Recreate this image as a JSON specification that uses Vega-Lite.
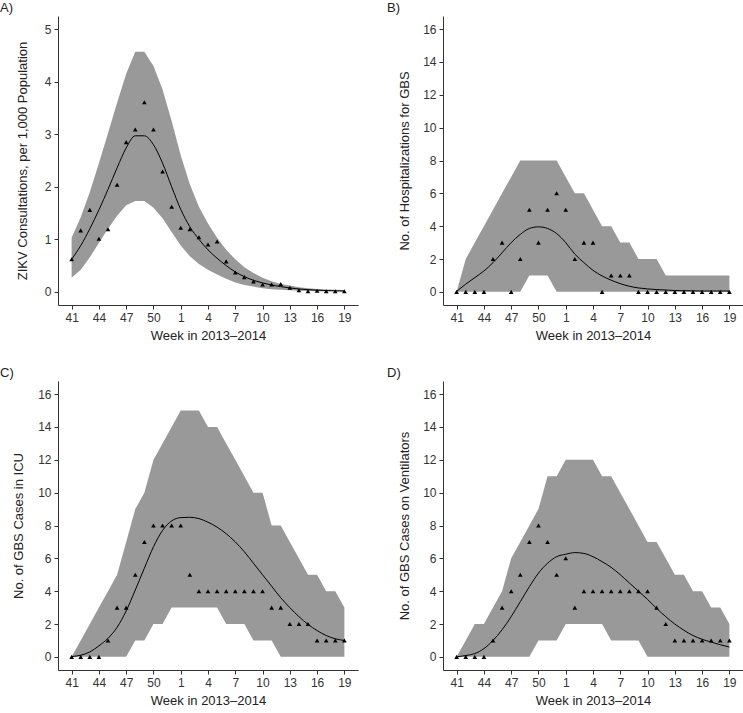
{
  "$schema": "https://vega.github.io/schema/vega-lite/v6.json",
  "padding": {"left": 0, "top": 2, "right": 0, "bottom": 0},
  "bounds": "flush",
  "columns": 2,
  "spacing": {"row": 76, "column": 85},
  "datasets": {
    "A": [
      {"t":0,"obs":0.62,"fit":0.62,"lo":0.27,"hi":1.03},
      {"t":1,"obs":1.17,"fit":0.88,"lo":0.42,"hi":1.42},
      {"t":2,"obs":1.56,"fit":1.2,"lo":0.66,"hi":1.9},
      {"t":3,"obs":1.01,"fit":1.56,"lo":0.93,"hi":2.45},
      {"t":4,"obs":1.19,"fit":1.95,"lo":1.2,"hi":3.02},
      {"t":5,"obs":2.04,"fit":2.36,"lo":1.45,"hi":3.6},
      {"t":6,"obs":2.85,"fit":2.74,"lo":1.65,"hi":4.15},
      {"t":7,"obs":3.09,"fit":2.97,"lo":1.73,"hi":4.57},
      {"t":8,"obs":3.61,"fit":2.97,"lo":1.73,"hi":4.57},
      {"t":9,"obs":3.09,"fit":2.8,"lo":1.6,"hi":4.3},
      {"t":10,"obs":2.29,"fit":2.45,"lo":1.4,"hi":3.85},
      {"t":11,"obs":1.62,"fit":2.0,"lo":1.14,"hi":3.25},
      {"t":12,"obs":1.22,"fit":1.57,"lo":0.88,"hi":2.6},
      {"t":13,"obs":1.19,"fit":1.24,"lo":0.68,"hi":2.05},
      {"t":14,"obs":1.04,"fit":1.0,"lo":0.53,"hi":1.62},
      {"t":15,"obs":0.9,"fit":0.8,"lo":0.42,"hi":1.3},
      {"t":16,"obs":0.96,"fit":0.64,"lo":0.33,"hi":1.03},
      {"t":17,"obs":0.58,"fit":0.5,"lo":0.25,"hi":0.8},
      {"t":18,"obs":0.37,"fit":0.38,"lo":0.18,"hi":0.62},
      {"t":19,"obs":0.28,"fit":0.29,"lo":0.13,"hi":0.47},
      {"t":20,"obs":0.2,"fit":0.22,"lo":0.1,"hi":0.36},
      {"t":21,"obs":0.14,"fit":0.17,"lo":0.07,"hi":0.27},
      {"t":22,"obs":0.14,"fit":0.13,"lo":0.05,"hi":0.2},
      {"t":23,"obs":0.15,"fit":0.1,"lo":0.04,"hi":0.15},
      {"t":24,"obs":0.08,"fit":0.075,"lo":0.03,"hi":0.12},
      {"t":25,"obs":0.03,"fit":0.055,"lo":0.02,"hi":0.09},
      {"t":26,"obs":0.01,"fit":0.042,"lo":0.015,"hi":0.07},
      {"t":27,"obs":0.02,"fit":0.032,"lo":0.01,"hi":0.055},
      {"t":28,"obs":0.01,"fit":0.025,"lo":0.01,"hi":0.045},
      {"t":29,"obs":0.01,"fit":0.02,"lo":0.01,"hi":0.04},
      {"t":30,"obs":0.01,"fit":0.016,"lo":0.005,"hi":0.035}
    ],
    "B": [
      {"t":0,"obs":0,"fit":0.03,"lo":0,"hi":0},
      {"t":1,"obs":0,"fit":0.47,"lo":0,"hi":2},
      {"t":2,"obs":0,"fit":0.87,"lo":0,"hi":3},
      {"t":3,"obs":0,"fit":1.27,"lo":0,"hi":4},
      {"t":4,"obs":2,"fit":1.78,"lo":0,"hi":5},
      {"t":5,"obs":3,"fit":2.38,"lo":0,"hi":6},
      {"t":6,"obs":0,"fit":3.0,"lo":0,"hi":7},
      {"t":7,"obs":2,"fit":3.5,"lo":0,"hi":8},
      {"t":8,"obs":5,"fit":3.86,"lo":1,"hi":8},
      {"t":9,"obs":3,"fit":3.96,"lo":1,"hi":8},
      {"t":10,"obs":5,"fit":3.86,"lo":1,"hi":8},
      {"t":11,"obs":6,"fit":3.55,"lo":0,"hi":8},
      {"t":12,"obs":5,"fit":3.0,"lo":0,"hi":7},
      {"t":13,"obs":2,"fit":2.3,"lo":0,"hi":6},
      {"t":14,"obs":3,"fit":1.78,"lo":0,"hi":6},
      {"t":15,"obs":3,"fit":1.31,"lo":0,"hi":5},
      {"t":16,"obs":0,"fit":0.97,"lo":0,"hi":4},
      {"t":17,"obs":1,"fit":0.71,"lo":0,"hi":4},
      {"t":18,"obs":1,"fit":0.5,"lo":0,"hi":3},
      {"t":19,"obs":1,"fit":0.34,"lo":0,"hi":3},
      {"t":20,"obs":0,"fit":0.24,"lo":0,"hi":2},
      {"t":21,"obs":0,"fit":0.18,"lo":0,"hi":2},
      {"t":22,"obs":0,"fit":0.14,"lo":0,"hi":2},
      {"t":23,"obs":0,"fit":0.11,"lo":0,"hi":1},
      {"t":24,"obs":0,"fit":0.08,"lo":0,"hi":1},
      {"t":25,"obs":0,"fit":0.07,"lo":0,"hi":1},
      {"t":26,"obs":0,"fit":0.06,"lo":0,"hi":1},
      {"t":27,"obs":0,"fit":0.05,"lo":0,"hi":1},
      {"t":28,"obs":0,"fit":0.05,"lo":0,"hi":1},
      {"t":29,"obs":0,"fit":0.05,"lo":0,"hi":1},
      {"t":30,"obs":0,"fit":0.05,"lo":0,"hi":1}
    ],
    "C": [
      {"t":0,"obs":0,"fit":0.02,"lo":0,"hi":0},
      {"t":1,"obs":0,"fit":0.1,"lo":0,"hi":1},
      {"t":2,"obs":0,"fit":0.3,"lo":0,"hi":2},
      {"t":3,"obs":0,"fit":0.67,"lo":0,"hi":3},
      {"t":4,"obs":1,"fit":1.13,"lo":0,"hi":4},
      {"t":5,"obs":3,"fit":1.8,"lo":0,"hi":5},
      {"t":6,"obs":3,"fit":2.8,"lo":0,"hi":7},
      {"t":7,"obs":5,"fit":4.07,"lo":1,"hi":9},
      {"t":8,"obs":7,"fit":5.4,"lo":1,"hi":10},
      {"t":9,"obs":8,"fit":6.7,"lo":2,"hi":12},
      {"t":10,"obs":8,"fit":7.7,"lo":2,"hi":13},
      {"t":11,"obs":8,"fit":8.28,"lo":3,"hi":14},
      {"t":12,"obs":8,"fit":8.48,"lo":3,"hi":15},
      {"t":13,"obs":5,"fit":8.5,"lo":3,"hi":15},
      {"t":14,"obs":4,"fit":8.42,"lo":3,"hi":15},
      {"t":15,"obs":4,"fit":8.2,"lo":3,"hi":14},
      {"t":16,"obs":4,"fit":7.9,"lo":3,"hi":14},
      {"t":17,"obs":4,"fit":7.5,"lo":2,"hi":13},
      {"t":18,"obs":4,"fit":7.0,"lo":2,"hi":12},
      {"t":19,"obs":4,"fit":6.4,"lo":2,"hi":11},
      {"t":20,"obs":4,"fit":5.7,"lo":1,"hi":10},
      {"t":21,"obs":4,"fit":5.0,"lo":1,"hi":10},
      {"t":22,"obs":3,"fit":4.3,"lo":1,"hi":8},
      {"t":23,"obs":3,"fit":3.6,"lo":0,"hi":8},
      {"t":24,"obs":2,"fit":3.0,"lo":0,"hi":7},
      {"t":25,"obs":2,"fit":2.45,"lo":0,"hi":6},
      {"t":26,"obs":2,"fit":1.98,"lo":0,"hi":5},
      {"t":27,"obs":1,"fit":1.6,"lo":0,"hi":5},
      {"t":28,"obs":1,"fit":1.3,"lo":0,"hi":4},
      {"t":29,"obs":1,"fit":1.1,"lo":0,"hi":4},
      {"t":30,"obs":1,"fit":1.0,"lo":0,"hi":3}
    ],
    "D": [
      {"t":0,"obs":0,"fit":0.0,"lo":0,"hi":0},
      {"t":1,"obs":0,"fit":0.08,"lo":0,"hi":1},
      {"t":2,"obs":0,"fit":0.2,"lo":0,"hi":2},
      {"t":3,"obs":0,"fit":0.5,"lo":0,"hi":2},
      {"t":4,"obs":1,"fit":1.0,"lo":0,"hi":3},
      {"t":5,"obs":3,"fit":1.65,"lo":0,"hi":4},
      {"t":6,"obs":4,"fit":2.45,"lo":0,"hi":6},
      {"t":7,"obs":5,"fit":3.36,"lo":0,"hi":7},
      {"t":8,"obs":7,"fit":4.27,"lo":0,"hi":8},
      {"t":9,"obs":8,"fit":5.1,"lo":1,"hi":9},
      {"t":10,"obs":7,"fit":5.7,"lo":1,"hi":11},
      {"t":11,"obs":5,"fit":6.1,"lo":1,"hi":11},
      {"t":12,"obs":6,"fit":6.25,"lo":2,"hi":12},
      {"t":13,"obs":3,"fit":6.35,"lo":2,"hi":12},
      {"t":14,"obs":4,"fit":6.3,"lo":2,"hi":12},
      {"t":15,"obs":4,"fit":6.1,"lo":2,"hi":12},
      {"t":16,"obs":4,"fit":5.8,"lo":2,"hi":11},
      {"t":17,"obs":4,"fit":5.45,"lo":1,"hi":11},
      {"t":18,"obs":4,"fit":5.0,"lo":1,"hi":10},
      {"t":19,"obs":4,"fit":4.5,"lo":1,"hi":9},
      {"t":20,"obs":4,"fit":4.0,"lo":1,"hi":8},
      {"t":21,"obs":4,"fit":3.5,"lo":0,"hi":7},
      {"t":22,"obs":3,"fit":2.95,"lo":0,"hi":7},
      {"t":23,"obs":2,"fit":2.45,"lo":0,"hi":6},
      {"t":24,"obs":1,"fit":2.0,"lo":0,"hi":5},
      {"t":25,"obs":1,"fit":1.62,"lo":0,"hi":5},
      {"t":26,"obs":1,"fit":1.3,"lo":0,"hi":4},
      {"t":27,"obs":1,"fit":1.07,"lo":0,"hi":4},
      {"t":28,"obs":1,"fit":0.9,"lo":0,"hi":3},
      {"t":29,"obs":1,"fit":0.74,"lo":0,"hi":3},
      {"t":30,"obs":1,"fit":0.6,"lo":0,"hi":2}
    ]
  },
  "concat": [
    {
      "data": {"name": "A"},
      "width": 300, "height": 289,
      "title": {"text": "A)", "dx": -58},
      "encoding": {"x": {"field": "t", "type": "quantitative", "title": "Week in 2013–2014", "scale": {"domain": [-1.5, 31.5], "nice": false, "zero": false}, "axis": {"values": [0,3,6,9,12,15,18,21,24,27,30], "labelExpr": "datum.value < 12 ? datum.value + 41 : datum.value - 11"}}},
      "layer": [
        {"mark": {"type": "area", "color": "#999999", "opacity": 1}, "encoding": {"y": {"field": "lo", "type": "quantitative", "title": "ZIKV Consultations, per 1,000 Population", "scale": {"domain": [-0.25, 5.25], "nice": false, "zero": false}, "axis": {"values": [0,1,2,3,4,5], "format": "d", "titlePadding": 15}}, "y2": {"field": "hi"}}},
        {"mark": {"type": "line", "color": "#000000", "strokeWidth": 1, "interpolate": "monotone"}, "encoding": {"y": {"field": "fit", "type": "quantitative", "title": "ZIKV Consultations, per 1,000 Population", "axis": {"values": [0,1,2,3,4,5], "format": "d", "titlePadding": 15}}}},
        {"mark": {"type": "point", "shape": "triangle-up", "filled": true, "color": "#000000", "opacity": 1, "size": 22}, "encoding": {"y": {"field": "obs", "type": "quantitative", "title": "ZIKV Consultations, per 1,000 Population", "axis": {"values": [0,1,2,3,4,5], "format": "d", "titlePadding": 15}}}}
      ]
    },
    {
      "data": {"name": "B"},
      "width": 300, "height": 289,
      "title": {"text": "B)", "dx": -56},
      "encoding": {"x": {"field": "t", "type": "quantitative", "title": "Week in 2013–2014", "scale": {"domain": [-1.5, 31.5], "nice": false, "zero": false}, "axis": {"values": [0,3,6,9,12,15,18,21,24,27,30], "labelExpr": "datum.value < 12 ? datum.value + 41 : datum.value - 11"}}},
      "layer": [
        {"mark": {"type": "area", "color": "#999999", "opacity": 1}, "encoding": {"y": {"field": "lo", "type": "quantitative", "title": "No. of Hospitalizations for GBS", "scale": {"domain": [-0.8, 16.8], "nice": false, "zero": false}, "axis": {"values": [0,2,4,6,8,10,12,14,16], "format": "d", "titlePadding": 11}}, "y2": {"field": "hi"}}},
        {"mark": {"type": "line", "color": "#000000", "strokeWidth": 1, "interpolate": "monotone"}, "encoding": {"y": {"field": "fit", "type": "quantitative", "title": "No. of Hospitalizations for GBS", "axis": {"values": [0,2,4,6,8,10,12,14,16], "format": "d", "titlePadding": 11}}}},
        {"mark": {"type": "point", "shape": "triangle-up", "filled": true, "color": "#000000", "opacity": 1, "size": 22}, "encoding": {"y": {"field": "obs", "type": "quantitative", "title": "No. of Hospitalizations for GBS", "axis": {"values": [0,2,4,6,8,10,12,14,16], "format": "d", "titlePadding": 11}}}}
      ]
    },
    {
      "data": {"name": "C"},
      "width": 300, "height": 289,
      "title": {"text": "C)", "dx": -58},
      "encoding": {"x": {"field": "t", "type": "quantitative", "title": "Week in 2013–2014", "scale": {"domain": [-1.5, 31.5], "nice": false, "zero": false}, "axis": {"values": [0,3,6,9,12,15,18,21,24,27,30], "labelExpr": "datum.value < 12 ? datum.value + 41 : datum.value - 11"}}},
      "layer": [
        {"mark": {"type": "area", "color": "#999999", "opacity": 1}, "encoding": {"y": {"field": "lo", "type": "quantitative", "title": "No. of GBS Cases in ICU", "scale": {"domain": [-0.8, 16.8], "nice": false, "zero": false}, "axis": {"values": [0,2,4,6,8,10,12,14,16], "format": "d", "titlePadding": 12}}, "y2": {"field": "hi"}}},
        {"mark": {"type": "line", "color": "#000000", "strokeWidth": 1, "interpolate": "monotone"}, "encoding": {"y": {"field": "fit", "type": "quantitative", "title": "No. of GBS Cases in ICU", "axis": {"values": [0,2,4,6,8,10,12,14,16], "format": "d", "titlePadding": 12}}}},
        {"mark": {"type": "point", "shape": "triangle-up", "filled": true, "color": "#000000", "opacity": 1, "size": 22}, "encoding": {"y": {"field": "obs", "type": "quantitative", "title": "No. of GBS Cases in ICU", "axis": {"values": [0,2,4,6,8,10,12,14,16], "format": "d", "titlePadding": 12}}}}
      ]
    },
    {
      "data": {"name": "D"},
      "width": 300, "height": 289,
      "title": {"text": "D)", "dx": -56},
      "encoding": {"x": {"field": "t", "type": "quantitative", "title": "Week in 2013–2014", "scale": {"domain": [-1.5, 31.5], "nice": false, "zero": false}, "axis": {"values": [0,3,6,9,12,15,18,21,24,27,30], "labelExpr": "datum.value < 12 ? datum.value + 41 : datum.value - 11"}}},
      "layer": [
        {"mark": {"type": "area", "color": "#999999", "opacity": 1}, "encoding": {"y": {"field": "lo", "type": "quantitative", "title": "No. of GBS Cases on Ventilators", "scale": {"domain": [-0.8, 16.8], "nice": false, "zero": false}, "axis": {"values": [0,2,4,6,8,10,12,14,16], "format": "d", "titlePadding": 11}}, "y2": {"field": "hi"}}},
        {"mark": {"type": "line", "color": "#000000", "strokeWidth": 1, "interpolate": "monotone"}, "encoding": {"y": {"field": "fit", "type": "quantitative", "title": "No. of GBS Cases on Ventilators", "axis": {"values": [0,2,4,6,8,10,12,14,16], "format": "d", "titlePadding": 11}}}},
        {"mark": {"type": "point", "shape": "triangle-up", "filled": true, "color": "#000000", "opacity": 1, "size": 22}, "encoding": {"y": {"field": "obs", "type": "quantitative", "title": "No. of GBS Cases on Ventilators", "axis": {"values": [0,2,4,6,8,10,12,14,16], "format": "d", "titlePadding": 11}}}}
      ]
    }
  ],
  "config": {
    "font": "Liberation Sans",
    "view": {"stroke": null},
    "axis": {"grid": false, "domainColor": "#333333", "tickColor": "#333333", "labelColor": "#333333", "titleColor": "#222222", "labelFontSize": 12, "titleFontSize": 13, "titleFontWeight": "normal", "tickSize": 4, "labelPadding": 3, "domainWidth": 1, "tickWidth": 1, "labelOverlap": false, "labelFlush": false},
    "axisX": {"titlePadding": 6},
    "title": {"fontSize": 13, "fontWeight": "normal", "anchor": "start", "frame": "group", "offset": 1, "color": "#222222"}
  }
}
